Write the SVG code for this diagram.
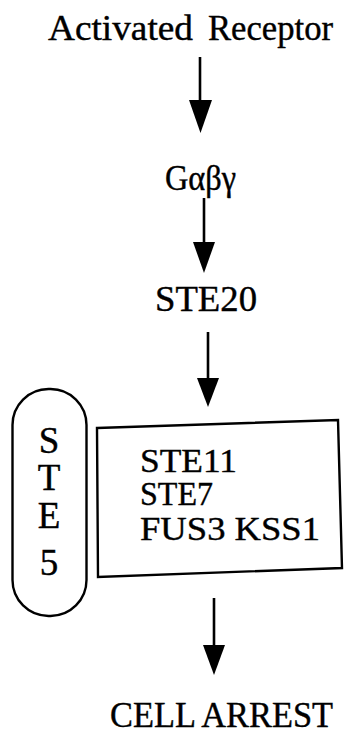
<svg xmlns="http://www.w3.org/2000/svg" width="350" height="748" viewBox="0 0 350 748">
<defs>
<style>
text{font-family:"Liberation Serif","Times New Roman",serif;fill:#000;stroke:#000;stroke-width:0.4}
.t{font-size:35px}
.in{font-size:34px}
.v{font-size:37px;text-anchor:middle}
.ln{stroke:#000;stroke-width:2.6;fill:none}
.hd{fill:#000}
.box{fill:none;stroke:#000;stroke-width:2.4}
</style>
</defs>
<g id="connectors">
<line class="ln" x1="200" y1="57" x2="200" y2="104"/>
<polygon class="hd" points="189,100 212,100 200.5,133"/>
<line class="ln" x1="204" y1="198" x2="204" y2="246"/>
<polygon class="hd" points="193,242 215,242 204,273"/>
<line class="ln" x1="208" y1="332" x2="208" y2="382"/>
<polygon class="hd" points="197,378 219,378 208,407"/>
<line class="ln" x1="214" y1="598" x2="214" y2="649"/>
<polygon class="hd" points="203,645 225,645 214,675"/>
</g>
<g id="receptor">
<text class="t" x="48" y="40" textLength="145" lengthAdjust="spacingAndGlyphs">Activated</text>
<text class="t" x="208" y="40" textLength="125" lengthAdjust="spacingAndGlyphs">Receptor</text>
</g>
<g id="gabg"><text class="t" x="165" y="190" textLength="71" lengthAdjust="spacingAndGlyphs">Gαβγ</text></g>
<g id="ste20"><text class="t" x="155" y="311" textLength="102" lengthAdjust="spacingAndGlyphs">STE20</text></g>
<g id="ste5">
<rect class="box" x="12.5" y="389" width="74" height="227" rx="36" ry="36"/>
<text class="v" x="49" y="453">S</text>
<text class="v" x="49" y="490">T</text>
<text class="v" x="49" y="528">E</text>
<text class="v" x="49" y="575">5</text>
</g>
<g id="kinases">
<polygon class="box" points="97,428 338,420 342,568 98,577"/>
<text class="in" x="140" y="472" textLength="97" lengthAdjust="spacingAndGlyphs">STE11</text>
<text class="in" x="140" y="505" textLength="73" lengthAdjust="spacingAndGlyphs">STE7</text>
<text class="in" x="140" y="540" textLength="180" lengthAdjust="spacingAndGlyphs">FUS3 KSS1</text>
</g>
<g id="arrest"><text class="t" x="110" y="727" textLength="223" lengthAdjust="spacingAndGlyphs">CELL ARREST</text></g>
</svg>
